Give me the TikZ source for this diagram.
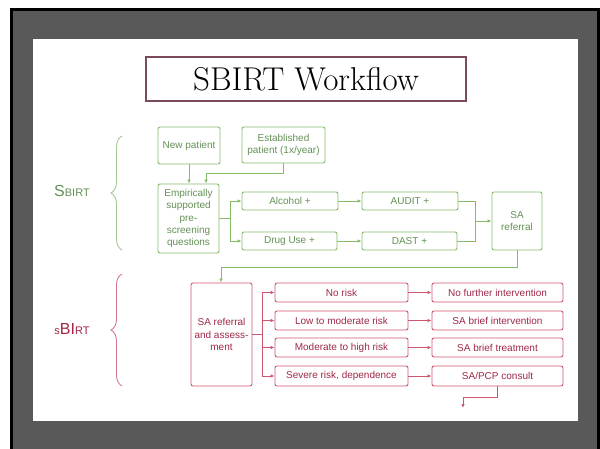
\documentclass[tikz,border=0pt]{standalone}
\usepackage{fontspec}
\newfontfamily\sansf{Liberation Sans}
\usetikzlibrary{arrows.meta,decorations.pathreplacing}
\definecolor{framegray}{RGB}{89,89,89}
\definecolor{titlecol}{RGB}{123,74,95}
\definecolor{gcol}{RGB}{135,188,105}
\definecolor{gtxt}{RGB}{100,145,85}
\definecolor{gbr}{RGB}{165,200,145}
\definecolor{rcol}{RGB}{208,85,110}
\definecolor{rtxt}{RGB}{160,40,70}
\definecolor{rbr}{RGB}{212,120,140}
\begin{document}
\begin{tikzpicture}[x=1pt,y=-1pt,
  gbox/.style={draw=gcol, line width=0.9pt, rounded corners=2pt, fill=white, text=gtxt,
    font=\sansf\fontsize{10}{12.3}\selectfont, align=center, inner sep=0pt},
  rbox/.style={draw=rcol, line width=0.9pt, rounded corners=2pt, fill=white, text=rtxt,
    font=\sansf\fontsize{10}{12.3}\selectfont, align=center, inner sep=0pt},
  gconn/.style={draw=gcol, line width=0.9pt},
  rconn/.style={draw=rcol, line width=0.9pt},
  garrow/.style={gconn, -{Latex[length=4pt,width=3.5pt]}},
  rarrow/.style={rconn, -{Latex[length=4pt,width=3.5pt]}},
  gbrace/.style={draw=gbr, line width=0.9pt, decorate, decoration={brace, amplitude=11pt}},
  rbrace/.style={draw=rbr, line width=0.9pt, decorate, decoration={brace, amplitude=11pt}},
]
\useasboundingbox (0,0) rectangle (600,449);
\fill[white] (0,0) rectangle (600,449);
\fill[black] (10,8) rectangle (600,449);
\fill[framegray] (13,11) rectangle (597,449);
\fill[white] (33,39) rectangle (578,421);

% title
\node[draw=titlecol, line width=2pt, minimum width=320pt, minimum height=44pt, inner sep=0pt,
  font=\fontsize{33}{33}\selectfont] (title) at (306,79) {SBIRT Workflow};

% braces and labels
\draw[gbrace] (122,250) -- (122,136);
\draw[rbrace] (122,386) -- (122,274);
\node[text=gtxt, font=\sansf, inner sep=0pt] (lab1) at (72,191)
  {{\fontsize{16}{16}\selectfont S}{\fontsize{11}{11}\selectfont BIRT}};
\node[text=rtxt, font=\sansf, inner sep=0pt] (lab2) at (72,329)
  {{\fontsize{11}{11}\selectfont s}{\fontsize{16}{16}\selectfont BI}{\fontsize{11}{11}\selectfont RT}};

% green part
\node[gbox, minimum width=62pt, minimum height=37pt] (np) at (189,145.5) {New patient};
\node[gbox, minimum width=83pt, minimum height=36pt] (est) at (283.5,145) {Established\\patient (1x/year)};
\node[gbox, minimum width=61pt, minimum height=69pt] (emp) at (188.5,218.5) {Empirically\\supported\\pre-\\screening\\questions};
\node[gbox, minimum width=96pt, minimum height=18pt] (alc) at (290,201) {Alcohol +};
\node[gbox, minimum width=95pt, minimum height=18pt] (drug) at (289.5,241) {Drug Use +};
\node[gbox, minimum width=96pt, minimum height=18pt] (audit) at (410,201) {AUDIT +};
\node[gbox, minimum width=95pt, minimum height=18pt] (dast) at (409.5,241) {DAST +};
\node[gbox, minimum width=50pt, minimum height=58pt] (sa) at (517,221) {SA\\referral};

\coordinate (ej) at (206,173);
\coordinate (j1) at (230,218.5);
\coordinate (j2) at (475,221);
\coordinate (j3) at (221,267);

\draw[garrow] (np.south) -- (np.south |- emp.north);
\draw[gconn] (est.south) |- (ej);
\draw[garrow] (ej) -- (ej |- emp.north);
\draw[gconn] (emp.east) -- (j1);
\draw[garrow] (j1) |- (alc.west);
\draw[garrow] (j1) |- (drug.west);
\draw[garrow] (alc) -- (audit);
\draw[garrow] (drug) -- (dast);
\draw[gconn] (audit.east) -| (j2);
\draw[gconn] (dast.east) -| (j2);
\draw[garrow] (j2) -- (sa.west);
\draw[gconn] (sa.south) |- (j3);

% red part
\node[rbox, minimum width=61pt, minimum height=103pt] (assess) at (221.5,334.5) {SA referral\\and assess-\\ment};
\node[rbox, minimum width=133pt, minimum height=19pt] (r1) at (341.5,292.5) {No risk};
\node[rbox, minimum width=133pt, minimum height=19pt] (r2) at (341.5,320.5) {Low to moderate risk};
\node[rbox, minimum width=133pt, minimum height=19pt] (r3) at (341.5,347.5) {Moderate to high risk};
\node[rbox, minimum width=133pt, minimum height=20pt] (r4) at (341.5,376) {Severe risk, dependence};
\node[rbox, minimum width=131pt, minimum height=19pt] (a1) at (497.5,292.5) {No further intervention};
\node[rbox, minimum width=131pt, minimum height=19pt] (a2) at (497.5,320.5) {SA brief intervention};
\node[rbox, minimum width=131pt, minimum height=19pt] (a3) at (497.5,347.5) {SA brief treatment};
\node[rbox, minimum width=131pt, minimum height=20pt] (a4) at (497.5,376) {SA/PCP consult};

\draw[garrow] (j3) -- (j3 |- assess.north);

\coordinate (j4) at (262,334.5);
\coordinate (j5) at (463,397);
\coordinate (endp) at (463,408);
\draw[rconn] (assess.east) -- (j4);
\draw[rarrow] (j4) |- (r1.west);
\draw[rarrow] (j4) |- (r2.west);
\draw[rarrow] (j4) |- (r3.west);
\draw[rarrow] (j4) |- (r4.west);
\draw[rarrow] (r1) -- (a1);
\draw[rarrow] (r2) -- (a2);
\draw[rarrow] (r3) -- (a3);
\draw[rarrow] (r4) -- (a4);
\draw[rconn] (a4.south) |- (j5);
\draw[rarrow] (j5) -- (endp);
\end{tikzpicture}
\end{document}
